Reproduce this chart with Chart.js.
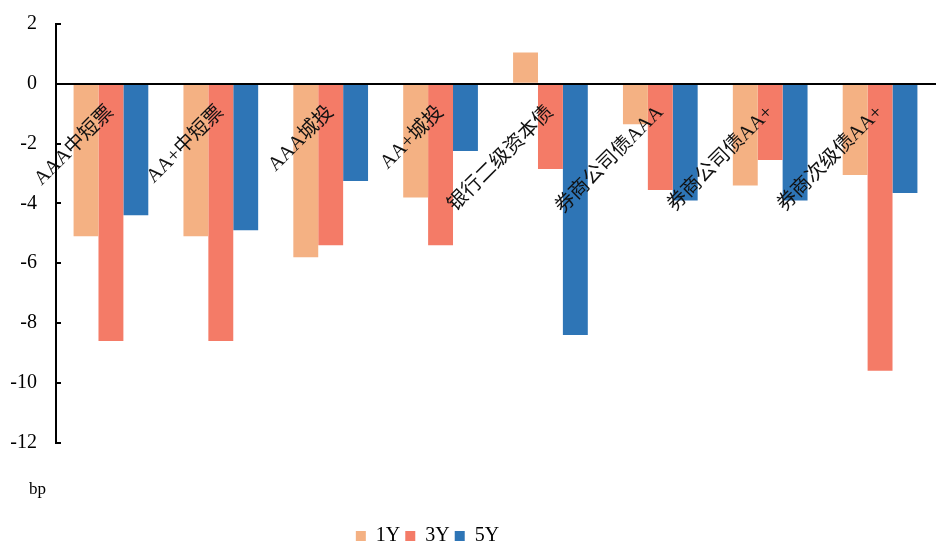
<!DOCTYPE html>
<html>
<head>
<meta charset="utf-8">
<script src="https://cdn.jsdelivr.net/npm/chart.js@4/dist/chart.umd.min.js"></script>
<style>
  html, body { margin: 0; padding: 0; background: #fff; }
  #wrap { width: 939px; height: 543px; }
</style>
</head>
<body>
<div id="wrap"><canvas id="grafico"></canvas></div>
<script>
const categorias = ['AAA中短票', 'AA+中短票', 'AAA城投', 'AA+城投', '银行二级资本债', '券商公司债AAA', '券商公司债AA+', '券商次级债AA+'];
const serie1Y = [-5.1, -5.1, -5.8, -3.8, 1.05, -1.35, -3.4, -3.05];
const serie3Y = [-8.6, -8.6, -5.4, -5.4, -2.85, -3.55, -2.55, -9.6];
const serie5Y = [-4.4, -4.9, -3.25, -2.25, -8.4, -3.9, -3.9, -3.65];
const nomesSeries = ['1Y', '3Y', '5Y'];
const cores = ['#F4B183', '#F47B67', '#2E75B6'];

const fonteSerif = '"Liberation Serif", "Times New Roman", "Noto Sans CJK SC", serif';

// acerta a posição da legenda e do rótulo "bp", como no original
const ajusteCaixas = {
  id: 'ajusteCaixas',
  afterLayout(chart) {
    if (chart.legend) chart.legend.right -= 90;
    const bp = chart.boxes.find(b => b.options && b.options.text === 'bp');
    if (bp) bp.left += 19;
  }
};

function semPadding(s) {
  s.paddingLeft = 0; s.paddingRight = 0; s.paddingTop = 0; s.paddingBottom = 0;
}

window.onload = function() {
  const ctx = document.getElementById('grafico').getContext('2d');
  new Chart(ctx, {
    type: 'bar',
    data: {
      labels: categorias,
      datasets: [serie1Y, serie3Y, serie5Y].map((valores, i) => ({
        label: nomesSeries[i],
        data: valores,
        backgroundColor: cores[i],
        borderWidth: 0,
        categoryPercentage: 0.68,
        barPercentage: 1
      }))
    },
    options: {
      responsive: true,
      maintainAspectRatio: false,
      animation: false,
      layout: { padding: { left: 10, right: 4, top: 24, bottom: -13 } },
      scales: {
        x: {
          position: { y: 0 },
          afterFit: semPadding,
          grid: { display: false, drawTicks: false },
          border: { display: true, color: '#000', width: 2, z: 2 },
          ticks: {
            z: 1,
            autoSkip: false,
            minRotation: 45,
            maxRotation: 45,
            padding: 17,
            color: '#111',
            font: { family: fonteSerif, size: 20 }
          }
        },
        y: {
          min: -12,
          max: 2,
          afterFit: s => { semPadding(s); s.width = 46; },
          grid: { display: true, drawOnChartArea: false, drawTicks: true, tickLength: -5, color: '#000', lineWidth: 2 },
          border: { display: true, color: '#000', width: 2 },
          ticks: {
            stepSize: 2,
            padding: 24,
            color: '#000',
            font: { family: fonteSerif, size: 20 }
          }
        }
      },
      plugins: {
        legend: {
          position: 'bottom',
          labels: {
            boxWidth: 10,
            boxHeight: 10,
            padding: 5,
            color: '#000',
            font: { family: fonteSerif, size: 20 }
          }
        },
        subtitle: {
          display: true,
          text: 'bp',
          position: 'bottom',
          align: 'start',
          weight: 500,
          color: '#000',
          padding: { top: 37, bottom: 21 },
          font: { family: fonteSerif, size: 17, weight: 'normal' }
        },
        tooltip: { enabled: false }
      }
    },
    plugins: [ajusteCaixas]
  });
};
</script>
</body>
</html>
